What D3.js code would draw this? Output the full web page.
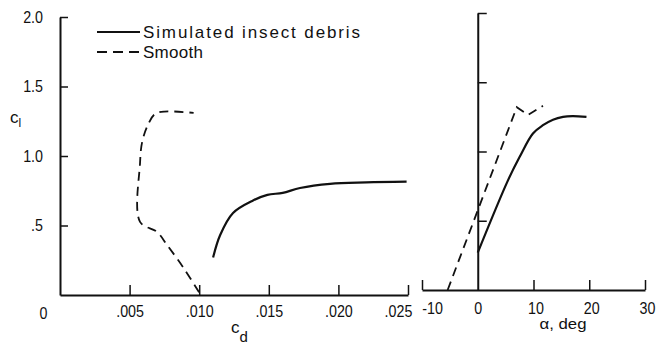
<!DOCTYPE html>
<html><head><meta charset="utf-8">
<script src="https://cdn.jsdelivr.net/npm/d3@7"></script>
<style>
html,body{margin:0;padding:0;background:#fff;}
svg{display:block;}
text{font-family:"Liberation Sans Narrow","Liberation Sans",Arial,sans-serif;fill:#111;}
</style></head>
<body><svg id="c" width="657" height="345"></svg>
<script>
// ---- data ----
const seriesNames = ["Simulated insect debris", "Smooth"];
// drag polar (cl vs cd)
const debrisCd = [0.0110, 0.0115, 0.01243, 0.01387, 0.0149, 0.0160, 0.01724, 0.0194, 0.0220, 0.0249];
const debrisClPolar = [0.27, 0.43, 0.59, 0.68, 0.72, 0.735, 0.77, 0.80, 0.81, 0.815];
const smoothCd = [0.00999, 0.00884, 0.00769, 0.00697, 0.00575, 0.00575, 0.0059, 0.0063, 0.0068, 0.0075, 0.0096];
const smoothClPolar = [0.02, 0.20, 0.36, 0.454, 0.526, 0.95, 1.10, 1.22, 1.30, 1.32, 1.31];
// lift curve (cl vs alpha)
const debrisAlpha = [0, 5.4, 7.5, 9.9, 11.7, 13.5, 15.3, 17, 19.5];
const debrisClLift = [0.27, 0.79, 0.96, 1.13, 1.19, 1.23, 1.25, 1.255, 1.25];
const smoothAlpha = [-5.4, 0, 7.0, 9.0, 11.7];
const smoothClLift = [0, 0.575, 1.32, 1.264, 1.33];
// ticks
const cdTicks = [0, 0.005, 0.010, 0.015, 0.020, 0.025];
const clTicks = [0.5, 1.0, 1.5, 2.0];
const alphaTicks = [-10, 0, 10, 20, 30];

const svg = d3.select("#c");
const xL = d3.scaleLinear().domain([0, 0.025]).range([60, 408]);
const yL = d3.scaleLinear().domain([0, 2]).range([295, 17]);
const xR = d3.scaleLinear().domain([-10, 30]).range([422, 645]);
const yR = d3.scaleLinear().domain([0, 2]).range([290, 13]);

const FS = 17;
const SQUEEZE = 0.84;
function squeeze(sel){
  sel.each(function(){
    const w = this.getComputedTextLength();
    if (w > 0) d3.select(this).attr("textLength", w*SQUEEZE).attr("lengthAdjust","spacingAndGlyphs");
  });
}
function styleAxis(g){
  g.select(".domain").attr("stroke","#111").attr("stroke-width",2);
  g.selectAll(".tick line").attr("stroke","#111").attr("stroke-width",1.5);
  g.selectAll("text").attr("font-size",FS).attr("font-family",null).attr("fill","#111");
  squeeze(g.selectAll("text"));
}

// left panel axes
const fmtCl = d => d3.format(".1f")(d).replace(/^0/, "");
const gyL = svg.append("g").attr("transform",`translate(${xL(0)},0)`)
  .call(d3.axisLeft(yL).tickValues(clTicks).tickFormat(fmtCl).tickSizeInner(-8).tickSizeOuter(0).tickPadding(17));
styleAxis(gyL);
const fmtCd = d => d === 0 ? "0" : d3.format(".3f")(d).replace(/^0/, "");
const gxL = svg.append("g").attr("transform",`translate(0,${yL(0)})`)
  .call(d3.axisBottom(xL).tickValues(cdTicks).tickFormat(fmtCd).tickSizeInner(-10).tickSizeOuter(0).tickPadding(10));
styleAxis(gxL);
gxL.selectAll(".tick").filter(d => d === 0).select("line").remove();
gxL.selectAll(".tick").filter(d => d === 0).select("text").attr("x", -17).attr("y", 12);
gxL.selectAll(".tick").filter(d => d === 0.025).select("text").attr("x", -10);

// right panel axes
const gyR = svg.append("g").attr("transform",`translate(${xR(0)},0)`)
  .call(d3.axisLeft(yR).tickValues(clTicks).tickFormat("").tickSizeInner(-9).tickSizeOuter(0));
styleAxis(gyR);
const fmtA = d => (d < 0 ? "-" : "") + Math.abs(d);
const gxR = svg.append("g").attr("transform",`translate(0,${yR(0)})`)
  .call(d3.axisBottom(xR).tickValues(alphaTicks).tickFormat(fmtA).tickSizeInner(-10).tickSizeOuter(0).tickPadding(12));
styleAxis(gxR);
gxR.selectAll(".tick").filter(d => d === 0).select("line").remove();
gxR.selectAll(".tick").filter(d => d < 0).select("text").attr("x", 10);
gxR.selectAll(".tick").filter(d => d > 0).select("text").attr("x", 2);

// curves
function drawLine(xs, ys, xsc, ysc, dashed, curve){
  const pts = xs.map((x,i)=>[xsc(x), ysc(ys[i])]);
  svg.append("path").attr("d", d3.line().curve(curve)(pts))
    .attr("fill","none").attr("stroke","#111")
    .attr("stroke-width", dashed ? 1.8 : 2.2)
    .attr("stroke-dasharray", dashed ? "9,6" : null);
}
drawLine(debrisCd, debrisClPolar, xL, yL, false, d3.curveCatmullRom.alpha(0.5));
drawLine(smoothCd, smoothClPolar, xL, yL, true, d3.curveCatmullRom.alpha(0.5));
drawLine(debrisAlpha, debrisClLift, xR, yR, false, d3.curveCatmullRom.alpha(0.5));
drawLine(smoothAlpha, smoothClLift, xR, yR, true, d3.curveLinear);

// legend
const leg = svg.append("g");
const legY = [32, 52];
const legW = [217, 60];
seriesNames.forEach((name,i)=>{
  leg.append("line").attr("x1",97).attr("x2",140).attr("y1",legY[i]).attr("y2",legY[i])
    .attr("stroke","#111").attr("stroke-width", i===0 ? 2 : 1.8)
    .attr("stroke-dasharray", i===0 ? null : "10,6");
  leg.append("text").attr("x",143).attr("y",legY[i]+6).attr("font-size",FS)
    .attr("textLength",legW[i]).attr("lengthAdjust","spacing").text(name);
});

// axis titles
const cl = svg.append("text").attr("x",10).attr("y",123).attr("font-size",FS);
cl.append("tspan").text("c");
cl.append("tspan").attr("dy",4).attr("font-size",12).text("l");
const cd = svg.append("text").attr("x",231).attr("y",333).attr("font-size",FS);
cd.append("tspan").text("c");
cd.append("tspan").attr("dy",9).attr("font-size",15).text("d");
svg.append("text").attr("x",563).attr("y",329).attr("text-anchor","middle").attr("font-size",15)
  .attr("textLength",47).attr("lengthAdjust","spacingAndGlyphs").text("α, deg");
</script>
</body></html>
